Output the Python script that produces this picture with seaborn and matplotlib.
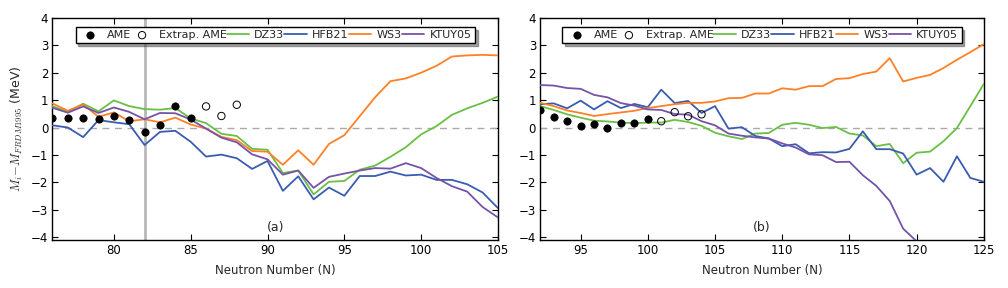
import numpy as np
import pandas as pd
import seaborn as sns
import matplotlib.pyplot as plt

# ---- panel (a) data, N = 76..105
N_a = list(range(76, 106))
dz33_a = [0.78, 0.57, 0.87, 0.59, 0.99, 0.78, 0.67, 0.65, 0.71, 0.33, 0.16, -0.23, -0.31, -0.78, -0.81,
          -1.66, -1.57, -2.44, -1.98, -1.95, -1.54, -1.39, -1.07, -0.72, -0.25, 0.05, 0.46, 0.70, 0.90, 1.13]
hfb21_a = [0.08, 0.00, -0.35, 0.27, 0.19, 0.12, -0.64, -0.16, -0.12, -0.52, -1.06, -0.99, -1.12, -1.51, -1.22,
           -2.31, -1.78, -2.62, -2.19, -2.49, -1.77, -1.77, -1.61, -1.75, -1.72, -1.91, -1.91, -2.07, -2.37, -2.94]
ws3_a = [0.88, 0.61, 0.84, 0.39, 0.55, 0.23, 0.30, 0.19, 0.36, 0.11, -0.04, -0.34, -0.46, -0.86, -0.88,
         -1.36, -0.83, -1.36, -0.60, -0.28, 0.41, 1.10, 1.69, 1.79, 2.00, 2.25, 2.59, 2.63, 2.65, 2.63]
ktuy05_a = [0.72, 0.54, 0.77, 0.53, 0.73, 0.57, 0.30, 0.53, 0.52, 0.29, -0.04, -0.37, -0.54, -0.98, -1.16,
            -1.72, -1.57, -2.20, -1.80, -1.68, -1.57, -1.48, -1.50, -1.30, -1.48, -1.84, -2.14, -2.34, -2.90, -3.28]
ame_N_a = [76, 77, 78, 79, 80, 81, 82, 83, 84, 85]
ame_a = [0.35, 0.36, 0.34, 0.31, 0.41, 0.29, -0.15, 0.10, 0.77, 0.36]
ext_N_a = [86, 87, 88]
ext_a = [0.77, 0.42, 0.83]

# ---- panel (b) data, N = 92..125
N_b = list(range(92, 126))
dz33_b = [0.78, 0.64, 0.48, 0.36, 0.25, 0.22, 0.18, 0.16, 0.18, 0.18, 0.28, 0.20, 0.06, -0.19, -0.32, -0.42, -0.22,
          -0.20, 0.10, 0.17, 0.10, -0.02, 0.02, -0.22, -0.29, -0.68, -0.60, -1.30, -0.92, -0.88, -0.50, -0.02, 0.78, 1.59]
hfb21_b = [0.85, 0.88, 0.70, 0.98, 0.66, 0.96, 0.71, 0.86, 0.74, 1.38, 0.89, 0.97, 0.53, 0.78, -0.04, 0.01, -0.31,
           -0.40, -0.68, -0.61, -0.94, -0.90, -0.91, -0.78, -0.14, -0.79, -0.79, -0.95, -1.72, -1.48, -1.98, -1.05, -1.84, -1.98]
ws3_b = [0.90, 0.78, 0.62, 0.53, 0.42, 0.49, 0.55, 0.61, 0.71, 0.78, 0.85, 0.90, 0.90, 0.95, 1.07, 1.08, 1.24,
         1.24, 1.43, 1.38, 1.51, 1.51, 1.77, 1.80, 1.95, 2.04, 2.53, 1.68, 1.81, 1.92, 2.17, 2.47, 2.75, 3.04]
N_kt_b = list(range(92, 121))
ktuy05_b = [1.55, 1.53, 1.44, 1.41, 1.19, 1.10, 0.89, 0.80, 0.66, 0.64, 0.49, 0.47, 0.23, 0.08, -0.22, -0.30, -0.36,
            -0.40, -0.58, -0.73, -0.98, -1.01, -1.26, -1.25, -1.74, -2.13, -2.68, -3.69, -4.15]
ame_N_b = [92, 93, 94, 95, 96, 97, 98, 99, 100]
ame_b = [0.64, 0.37, 0.24, 0.07, 0.11, -0.01, 0.16, 0.18, 0.31]
ext_N_b = [101, 102, 103, 104]
ext_b = [0.23, 0.56, 0.41, 0.48]

colors = {'DZ33': '#6abf45', 'HFB21': '#3a5cb0', 'WS3': '#ff8025', 'KTUY05': '#7553a8'}

sns.set_style('ticks')
plt.rcParams['font.family'] = ['DejaVu Sans']
plt.rcParams['mathtext.fontset'] = 'cm'
plt.rcParams['xtick.direction'] = 'in'
plt.rcParams['ytick.direction'] = 'in'
plt.rcParams['xtick.top'] = True
plt.rcParams['ytick.right'] = True
plt.rcParams['font.size'] = 8.5

fig = plt.figure(figsize=(10.08, 2.88), dpi=100)
ax1 = fig.add_axes([0.052, 0.167, 0.442, 0.771])
ax2 = fig.add_axes([0.536, 0.167, 0.440, 0.771])


def draw(ax, lines, ame_N, ame, ext_N, ext, xlim, label):
    ax.axhline(0, color='#aaaaaa', ls=(0, (5, 4)), lw=1, zorder=1)
    df = pd.DataFrame([(n, v, name) for name, (xs, ys) in lines.items() for n, v in zip(xs, ys)],
                      columns=['N', 'val', 'model'])
    sns.scatterplot(x=ame_N, y=ame, ax=ax, color='black', s=28, edgecolor='black', linewidth=0.5,
                    label='AME', zorder=5)
    sns.scatterplot(x=ext_N, y=ext, ax=ax, facecolor='none', edgecolor='black', s=28, linewidth=0.7,
                    label='Extrap. AME', zorder=5)
    sns.lineplot(data=df, x='N', y='val', hue='model', palette=colors, ax=ax, lw=1.3,
                 hue_order=['DZ33', 'HFB21', 'WS3', 'KTUY05'], zorder=3)
    ax.set_xlim(*xlim)
    ax.set_ylim(-4.1, 4.0)
    ax.set_yticks([-4, -3, -2, -1, 0, 1, 2, 3, 4])
    ax.set_xlabel('Neutron Number (N)', fontsize=8.5)
    ax.set_ylabel('')
    ax.xaxis.set_label_coords(0.5, -0.11)
    ax.text(0.5, 0.025, label, transform=ax.transAxes, ha='center', va='bottom', fontsize=9)
    for sp in ax.spines.values():
        sp.set_linewidth(1.0)
        sp.set_color('black')
    ax.tick_params(length=4, width=0.8, colors='black', labelsize=8.5, pad=3)
    h, l = ax.get_legend_handles_labels()
    leg = ax.legend(h, l, loc='upper center', ncol=6, fontsize=8, frameon=True, fancybox=False,
                    shadow=True, columnspacing=0.0, handletextpad=0.5, handlelength=2.0,
                    borderpad=0.3, bbox_to_anchor=(0.5, 0.985))
    leg.get_frame().set_edgecolor('black')
    leg.get_frame().set_linewidth(1.0)


draw(ax1, {'DZ33': (N_a, dz33_a), 'HFB21': (N_a, hfb21_a), 'WS3': (N_a, ws3_a), 'KTUY05': (N_a, ktuy05_a)},
     ame_N_a, ame_a, ext_N_a, ext_a, (76, 105), '(a)')
ax1.axvline(82, color='#999999', lw=2, alpha=0.7, zorder=2)
ax1.set_xticks([80, 85, 90, 95, 100, 105])
ax1.set_ylabel(r'$M_i\!-\!M_{FRDM1995}$ (MeV)', fontsize=9, labelpad=4)

draw(ax2, {'DZ33': (N_b, dz33_b), 'HFB21': (N_b, hfb21_b), 'WS3': (N_b, ws3_b), 'KTUY05': (N_kt_b, ktuy05_b)},
     ame_N_b, ame_b, ext_N_b, ext_b, (92, 125), '(b)')
ax2.set_xticks([95, 100, 105, 110, 115, 120, 125])

fig.savefig('out.png', dpi=100)
